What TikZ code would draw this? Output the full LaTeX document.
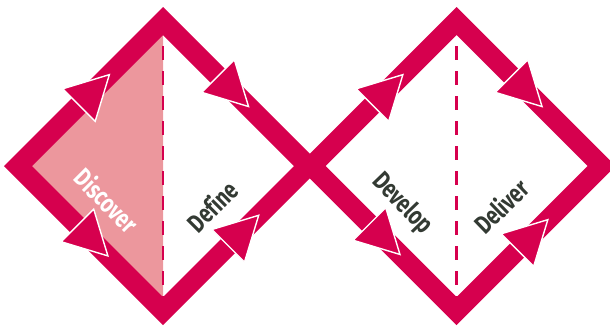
\documentclass[tikz,border=0pt]{standalone}
\usepackage{fontspec}
\newfontfamily\labelfont{Fira Sans}[FakeStretch=0.76, Ligatures=NoCommon]
\usepackage{xcolor}
\definecolor{ddred}{RGB}{214,0,78}
\definecolor{ddpink}{RGB}{236,151,157}
\definecolor{ddtext}{RGB}{51,58,51}
\usetikzlibrary{calc}

\begin{document}
\begin{tikzpicture}[
    x=1pt, y=-1pt,
    outline/.style={draw=ddred, line width=19.8pt, line join=miter},
    midline/.style={draw=ddred, line width=2.6pt, dash pattern=on 14pt off 11pt},
    arrowhead/.style={fill=ddred, draw=white, line width=1.4pt, line join=miter},
    phase/.style={font=\labelfont\bfseries\fontsize{26}{26}\selectfont, inner sep=0pt}
]
\useasboundingbox (0,0) rectangle (610,327);

% corners of the two diamonds
\coordinate (l1) at (18,166);
\coordinate (t1) at (163,21);
\coordinate (r1) at (308,166);
\coordinate (b1) at (163,311);
\coordinate (l2) at (311.5,166);
\coordinate (t2) at (456.5,21);
\coordinate (r2) at (601.5,166);
\coordinate (b2) at (456.5,311);

\fill[ddpink] (l1) -- (t1) -- (b1) -- cycle;
\draw[midline] (t1) -- (b1);
\draw[midline] (t2) -- (b2);

\draw[outline] (l1) -- (t1) -- (r1) -- (b1) -- cycle;
\draw[outline] (l2) -- (t2) -- (r2) -- (b2) -- cycle;

\foreach \a/\b/\p in {l1/t1/0.63, t1/r1/0.59, l1/b1/0.62, b1/r1/0.66,
                      l2/t2/0.63, t2/r2/0.59, l2/b2/0.61, b2/r2/0.63}
    \filldraw[arrowhead] ($(\a)!\p!(\b)$)
        -- ($(\a)!\p-0.21!(\b)!23pt!90:(\b)$)
        -- ($(\a)!\p-0.21!(\b)!23pt!-90:(\b)$) -- cycle;

\node[phase, text=white, rotate=-45] (discover) at (107,200) {Discover};
\node[phase, text=ddtext, rotate=45] (define) at (212,206) {Define};
\node[phase, text=ddtext, rotate=-46] (develop) at (402,204) {Develop};
\node[phase, text=ddtext, rotate=44] (deliver) at (501,206) {Deliver};
\end{tikzpicture}
\end{document}
